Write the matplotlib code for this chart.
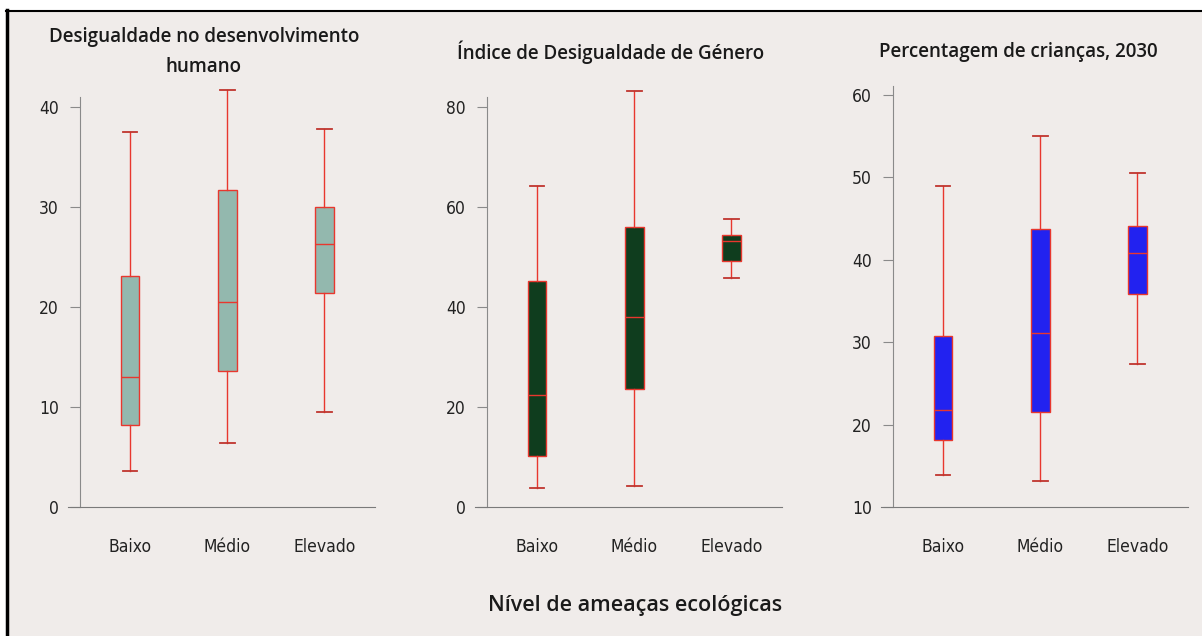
import matplotlib
matplotlib.use("Agg")
import matplotlib.pyplot as plt
from matplotlib.patches import Rectangle

# categories
cats = ["Baixo", "Médio", "Elevado"]

# box stats: (whislo, q1, med, q3, whishi)
idh_ineq = [(3.6, 8.2, 13.0, 23.1, 37.5),
            (6.4, 13.6, 20.5, 31.7, 41.7),
            (9.5, 21.4, 26.3, 30.0, 37.8)]
gii = [(3.8, 10.2, 22.4, 45.2, 64.3),
       (4.2, 23.7, 38.0, 56.1, 83.3),
       (45.9, 49.3, 53.2, 54.4, 57.6)]
kids = [(13.9, 18.1, 21.8, 30.8, 49.0),
        (13.1, 21.5, 31.1, 43.8, 55.0),
        (27.4, 35.8, 40.8, 44.1, 50.5)]

titles = ["Desigualdade no desenvolvimento\nhumano",
          "Índice de Desigualdade de Género",
          "Percentagem de crianças, 2030"]
colors = ["#93b8ae", "#0f3d1e", "#2222f0"]
ylims = [(0, 41), (0, 82), (10, 61.1)]
yticks = [[0, 10, 20, 30, 40], [0, 20, 40, 60, 80], [10, 20, 30, 40, 50, 60]]

bg = "#f0ecea"
red = "#e8372e"
titlefont = ["Open Sans", "DejaVu Sans"]

fig = plt.figure(figsize=(12.02, 6.36), dpi=100)
fig.patch.set_facecolor("white")
# beige panel with black frame on top/left
fig.patches.append(Rectangle((6 / 1202, 0), 1 - 6 / 1202, 1 - 10 / 636,
                             transform=fig.transFigure, facecolor=bg,
                             edgecolor="none", zorder=-5))
fig.add_artist(plt.Line2D([6.5 / 1202, 6.5 / 1202], [0, 1 - 10 / 636],
                          color="black", lw=2.5, transform=fig.transFigure))
fig.add_artist(plt.Line2D([6 / 1202, 1], [1 - 11 / 636, 1 - 11 / 636],
                          color="black", lw=1.5, transform=fig.transFigure))

# axes positions in pixels: left, right, top of axis, bottom (y=0 line)
boxes = [(68, 375, 97, 507), (475, 782, 97, 507), (881, 1188, 86, 507)]
datasets = [idh_ineq, gii, kids]
title_y = [52, 52, 52]
title_x = [204, 611, 1018]

for k in range(3):
    l, r, t, b = boxes[k]
    ax = fig.add_axes([l / 1202, 1 - b / 636, (r - l) / 1202, (b - t) / 636])
    ax.set_facecolor("none")
    stats = []
    for cat, (lo, q1, med, q3, hi) in zip(cats, datasets[k]):
        stats.append(dict(label=cat, whislo=lo, q1=q1, med=med, q3=q3,
                          whishi=hi, fliers=[]))
    parts = ax.bxp(stats, positions=[1, 2, 3], widths=0.19, patch_artist=True,
                   showfliers=False,
                   boxprops=dict(facecolor=colors[k], edgecolor=red, linewidth=1.0),
                   medianprops=dict(color=red, linewidth=1.0),
                   whiskerprops=dict(color=red, linewidth=1.0),
                   capprops=dict(color="#c0352e", linewidth=1.3),
                   capwidths=0.15)
    for key in parts:
        for a in parts[key]:
            a.set_clip_on(False)
    ax.set_xlim(0.36, 3.52)
    ax.set_ylim(*ylims[k])
    ax.set_yticks(yticks[k])
    for s in ["top", "right"]:
        ax.spines[s].set_visible(False)
    ax.spines["left"].set_color("#8a8a8a")
    ax.spines["bottom"].set_color("#7a7a7a")
    ax.spines["left"].set_position(("data", 0.48))
    ax.tick_params(axis="x", length=0, pad=22, labelsize=12.5)
    ax.tick_params(axis="y", length=7, color="#8a8a8a", pad=8, labelsize=12.5)
    for lab in ax.get_xticklabels() + ax.get_yticklabels():
        lab.set_family("DejaVu Sans")
        lab.set_stretch("condensed")
        lab.set_color("#222222")
    fig.text(title_x[k] / 1202, 1 - title_y[k] / 636, titles[k],
             ha="center", va="center", fontsize=13.5, color="#1a1a1a",
             family=titlefont, weight="semibold", linespacing=1.65)

fig.text(635 / 1202, 1 - 605 / 636, "Nível de ameaças ecológicas",
         ha="center", va="center", fontsize=15.5, color="#1a1a1a",
         family=titlefont, weight="semibold")

fig.savefig("out.png", dpi=100, facecolor=fig.get_facecolor())
